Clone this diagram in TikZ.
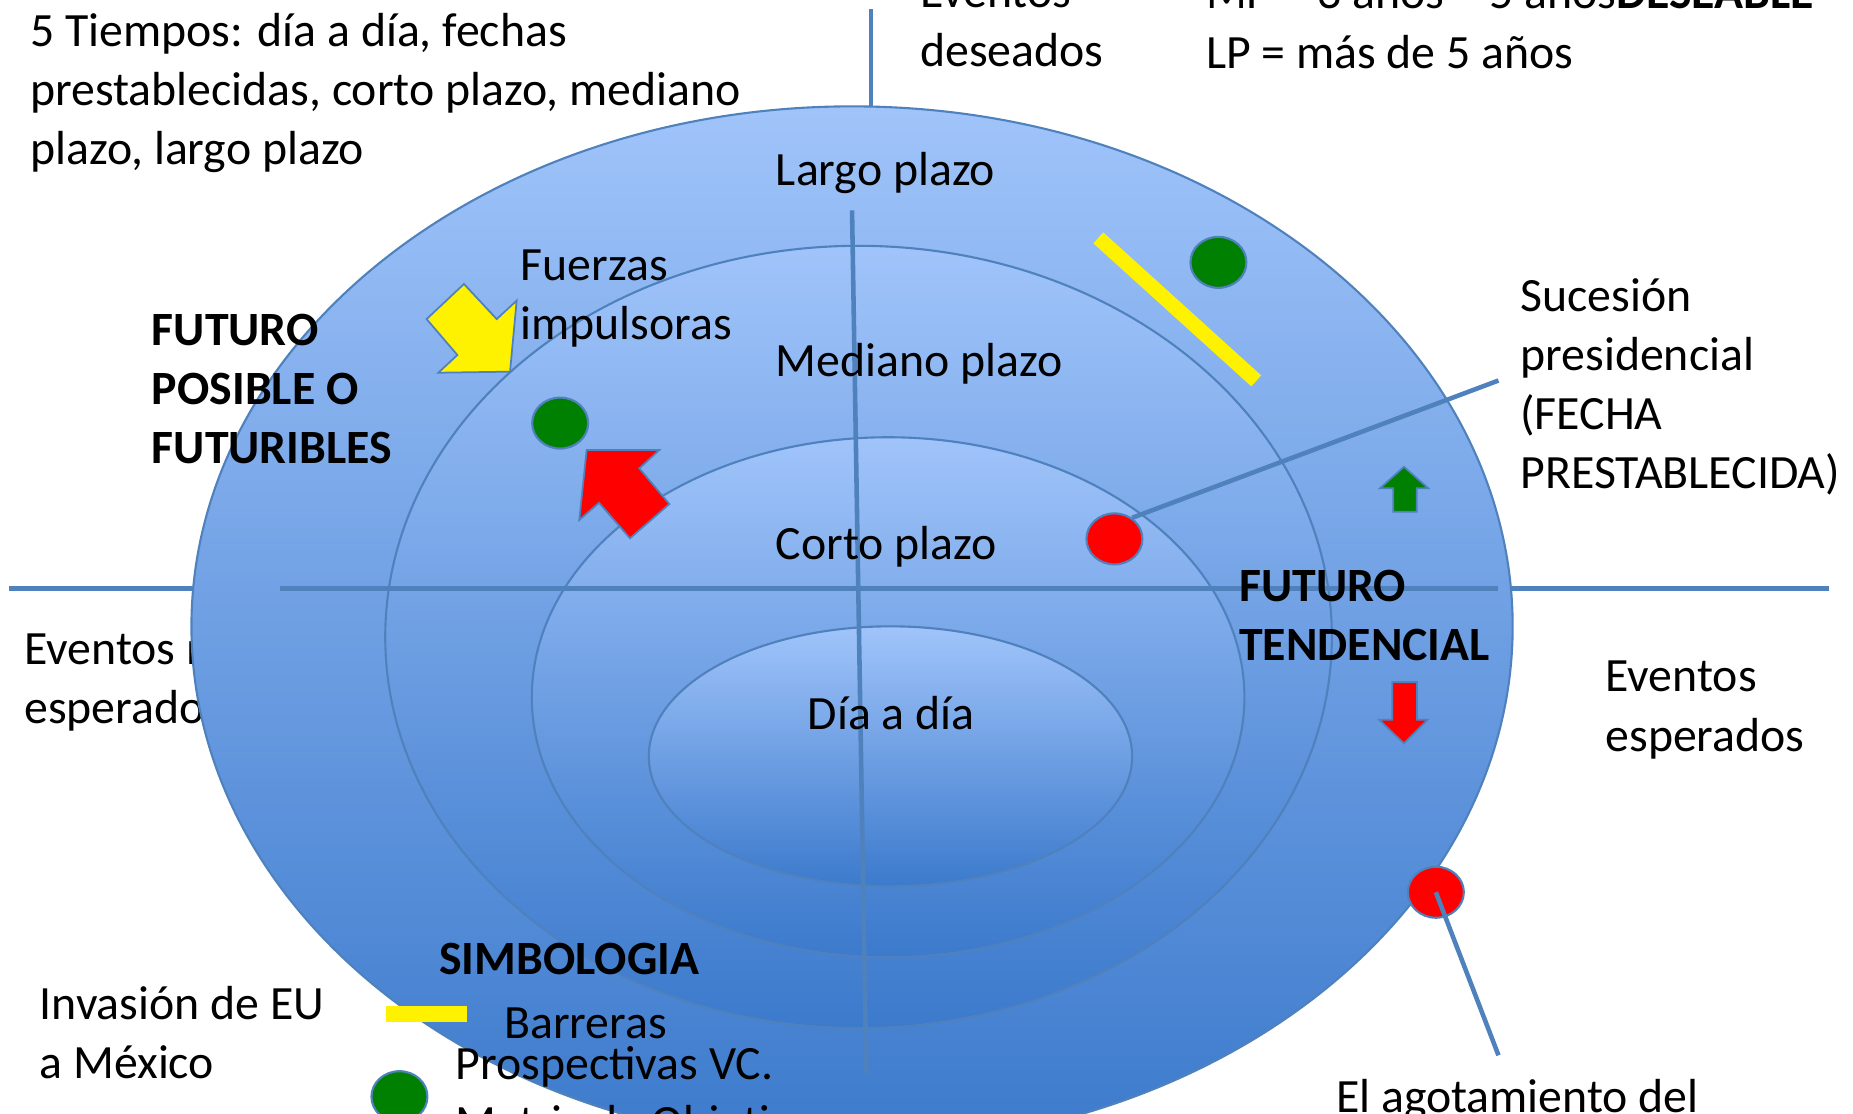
\documentclass[tikz,border=0pt]{standalone}
\usepackage{fontspec}
\setmainfont{Carlito}
\usepackage{tikz}
\usetikzlibrary{shapes.geometric}
\usetikzlibrary{positioning}
\definecolor{ringtop}{RGB}{160,196,250}
\definecolor{ringbot}{RGB}{60,122,204}
\definecolor{edgeblue}{RGB}{79,129,189}
\definecolor{dotgreen}{RGB}{0,128,0}
\newcommand{\fz}{\fontsize{13.6}{16.8}\selectfont}
\tikzset{
    ring/.style={draw=edgeblue, line width=0.6pt, top color=ringtop, bottom color=ringbot},
    axis/.style={draw=edgeblue, line width=1.3pt},
    leader/.style={draw=edgeblue, line width=1.3pt},
    txt/.style={anchor=north west, inner sep=0pt, align=left, font=\fz,
        execute at begin node=\strut},
    boldtxt/.style={txt, font=\fz\bfseries},
    dot/.style={ellipse, draw=edgeblue, line width=0.6pt,
        minimum width=5.6mm, minimum height=5.1mm, inner sep=0pt},
    bigarrow/.style={draw=edgeblue, line width=0.5pt, line join=miter},
}

\begin{document}
\begin{tikzpicture}[x=0.1182mm, y=-0.1182mm]
\clip (0,0) rectangle (1568,942);
% axes behind the rings
\draw[axis] (8,498) -- (1548,498);
\draw[axis] (737,8) -- (737,120);
\node[txt] (noesp) at (20,536) {Eventos no\\esperados};
% the four time rings
\draw[ring] (721,530) ellipse [x radius=559, y radius=440];
\draw[ring] (726.5,539) ellipse [x radius=400.5, y radius=331];
\draw[ring] (751.5,590) ellipse [x radius=301.5, y radius=220];
\draw[ring] (753.5,640) ellipse [x radius=204.5, y radius=110];
\draw[axis] (237,498) -- (1268,498);
\draw[axis] (721,178) -- (733,908);

\node[txt] (tiempos) at (25,11) {5 Tiempos: día a día, fechas\\prestablecidas, corto plazo, mediano\\plazo, largo plazo};
\node[txt] (deseados) at (778,-20) {Eventos\\deseados};
\node[txt] (plazos) at (1020,-20) {MP = 3 años – 5 años\textbf{DESEABLE}\\LP = más de 5 años};
\node[txt] (largo) at (656,121) {Largo plazo};
\node[txt] (fuerzas) at (440,211) {Fuerzas\\impulsoras};
\node[boldtxt] (posible) at (128,265) {FUTURO\\POSIBLE O\\FUTURIBLES};
\node[txt] (mediano) at (656,283) {Mediano plazo};
\node[txt] (sucesion) at (1286,235) {Sucesión\\presidencial\\(FECHA\\PRESTABLECIDA)};
\node[txt] (corto) at (656,438) {Corto plazo};
\node[boldtxt] (tendencial) at (1048,482) {FUTURO\\TENDENCIAL};
\node[txt] (esperados) at (1358,559) {Eventos\\esperados};
\node[txt] (dia) at (683,582) {Día a día};
\node[boldtxt] (simbologia) at (371,789) {SIMBOLOGIA};
\node[txt] (invasion) at (33,834) {Invasión de EU\\a México};
\node[txt] (barreras) at (426,843) {Barreras};
\node[txt] (prospectivas) at (385,885) {Prospectivas VC.\\Matriz de Objetivos};
\node[txt] (agotamiento) at (1130,906) {El agotamiento del};

% barriers
\draw[yellow, line width=4.2pt] (929.4,201.3) -- (1063,322.3);
\fill[yellow] (327,851) rectangle (395,865);
% forces
\filldraw[bigarrow, fill=yellow] (361,270) -- (392.6,240.3) -- (420.3,270) -- (437.2,254.4)
    -- (431.6,314.5) -- (370.9,315.4) -- (387,300.4) -- cycle;
\filldraw[bigarrow, fill=red] (496.4,380.8) -- (557.9,380.8) -- (541,396.3) -- (566.4,426.5)
    -- (533.1,455.5) -- (506.9,425.4) -- (490.2,440) -- cycle;
\filldraw[bigarrow, fill=dotgreen] (1188,395) -- (1208.6,413.2) -- (1198.8,413.2) -- (1198.8,433)
    -- (1179,433) -- (1179,413.2) -- (1167.7,413.2) -- cycle;
\filldraw[bigarrow, fill=red] (1178,577) -- (1199,577) -- (1199,609) -- (1208,609)
    -- (1188,629) -- (1167,609) -- (1178,609) -- cycle;

\node[dot, fill=red] (rdot1) at (943,456) {};
\node[dot, fill=dotgreen] (gdot1) at (1031,222) {};
\node[dot, fill=dotgreen] (gdot2) at (474,358) {};
\node[dot, fill=red] (rdot2) at (1215,755) {};
\node[dot, fill=dotgreen] (gdotkey) at (338,928) {};

\coordinate (sucend) at (1268,322);
\coordinate (agotend) at (1268,893);
\draw[leader] (rdot1.50) -- (sucend);
\draw[leader] (rdot2.center) -- (agotend);
\end{tikzpicture}
\end{document}
